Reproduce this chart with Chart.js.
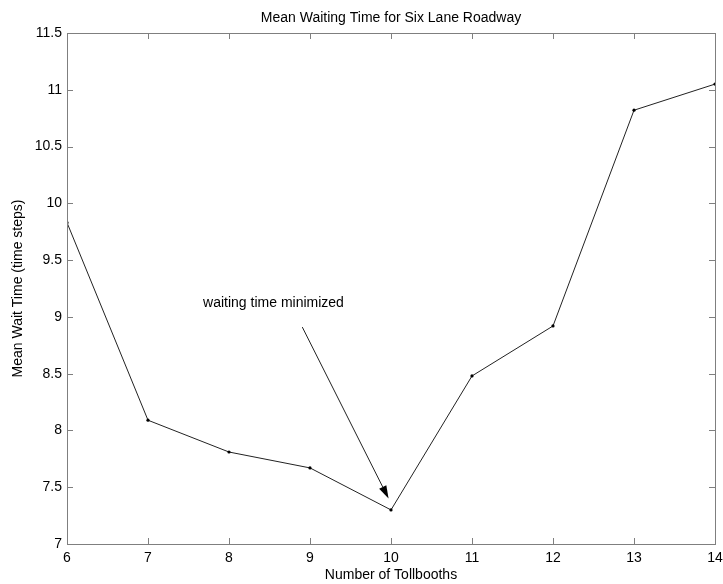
<!DOCTYPE html>
<html>
<head>
<meta charset="utf-8">
<script src="https://cdn.jsdelivr.net/npm/chart.js@4.4.0/dist/chart.umd.min.js"></script>
<style>
  html, body { margin: 0; padding: 0; background: #ffffff; }
  #wrap { width: 723px; height: 584px; position: relative; }
</style>
</head>
<body>
<div id="wrap"><canvas id="chart"></canvas></div>
<script>
// data
const tollbooths = [6, 7, 8, 9, 10, 11, 12, 13, 14];
const waitTimes = [9.83, 8.09, 7.81, 7.67, 7.3, 8.48, 8.92, 10.82, 11.05];
const yTicks = [7, 7.5, 8, 8.5, 9, 9.5, 10, 10.5, 11, 11.5];

const TITLE = "Mean Waiting Time for Six Lane Roadway";
const NOTE = "waiting time minimized";
const NOTE_AT = [7.68, 9.13];
const ARROW_FROM = [8.905, 8.91];
const ARROW_TO = [9.97, 7.4];

const FONT = "'Liberation Sans', Arial, sans-serif";
const FRAME = "#7f7f7f";

// box, inward ticks, title and the arrow note, the matlab look
const matlabLook = {
  id: "matlabLook",
  afterDraw(chart) {
    const ctx = chart.ctx;
    const a = chart.chartArea;
    const xs = chart.scales.x;
    const ys = chart.scales.y;
    ctx.save();

    ctx.strokeStyle = FRAME;
    ctx.lineWidth = 1;
    ctx.strokeRect(a.left + 0.5, a.top + 0.5, a.right - a.left, a.bottom - a.top);

    ctx.beginPath();
    tollbooths.forEach((v) => {
      const px = Math.round(xs.getPixelForValue(v)) + 0.5;
      ctx.moveTo(px, a.bottom);
      ctx.lineTo(px, a.bottom - 6);
      ctx.moveTo(px, a.top);
      ctx.lineTo(px, a.top + 6);
    });
    yTicks.forEach((v) => {
      const py = Math.round(ys.getPixelForValue(v)) + 0.5;
      ctx.moveTo(a.left, py);
      ctx.lineTo(a.left + 6, py);
      ctx.moveTo(a.right, py);
      ctx.lineTo(a.right - 6, py);
    });
    ctx.stroke();

    // title
    ctx.fillStyle = "#000000";
    ctx.font = `14px ${FONT}`;
    ctx.textAlign = "center";
    ctx.textBaseline = "alphabetic";
    ctx.fillText(TITLE, (a.left + a.right) / 2, 22);

    // note + arrow
    ctx.textAlign = "left";
    ctx.fillText(NOTE, xs.getPixelForValue(NOTE_AT[0]), ys.getPixelForValue(NOTE_AT[1]) + 5);

    const x1 = xs.getPixelForValue(ARROW_FROM[0]);
    const y1 = ys.getPixelForValue(ARROW_FROM[1]);
    const x2 = xs.getPixelForValue(ARROW_TO[0]);
    const y2 = ys.getPixelForValue(ARROW_TO[1]);
    const ang = Math.atan2(y2 - y1, x2 - x1);
    const headLen = 13;
    const headW = 4;
    ctx.strokeStyle = "#222222";
    ctx.beginPath();
    ctx.moveTo(x1, y1);
    ctx.lineTo(x2 - headLen * Math.cos(ang), y2 - headLen * Math.sin(ang));
    ctx.stroke();
    ctx.fillStyle = "#000000";
    ctx.beginPath();
    ctx.moveTo(x2, y2);
    ctx.lineTo(x2 - headLen * Math.cos(ang) + headW * Math.sin(ang), y2 - headLen * Math.sin(ang) - headW * Math.cos(ang));
    ctx.lineTo(x2 - headLen * Math.cos(ang) - headW * Math.sin(ang), y2 - headLen * Math.sin(ang) + headW * Math.cos(ang));
    ctx.closePath();
    ctx.fill();

    ctx.restore();
  },
};

Chart.defaults.font.family = FONT;
Chart.defaults.font.size = 14;
Chart.defaults.color = "#000000";

new Chart(document.getElementById("chart"), {
  type: "line",
  data: {
    labels: tollbooths,
    datasets: [
      {
        data: tollbooths.map((t, i) => ({ x: t, y: waitTimes[i] })),
        borderColor: "#222222",
        borderWidth: 1,
        pointRadius: 1.6,
        pointBackgroundColor: "#000000",
        pointBorderWidth: 0,
        tension: 0,
      },
    ],
  },
  options: {
    responsive: true,
    maintainAspectRatio: false,
    animation: false,
    layout: { padding: { top: 33, right: 8, left: 0, bottom: 0 } },
    plugins: {
      legend: { display: false },
      tooltip: { enabled: false },
    },
    scales: {
      x: {
        type: "linear",
        min: 6,
        max: 14,
        grid: { display: false, drawTicks: false },
        border: { display: false },
        ticks: { stepSize: 1, padding: 6, maxRotation: 0 },
        title: { display: true, text: "Number of Tollbooths", padding: { top: 0, bottom: 0 } },
        afterFit(scale) {
          scale.height = 40;
          scale.paddingRight = 0;
          scale.paddingLeft = 0;
        },
      },
      y: {
        min: 7,
        max: 11.5,
        grid: { display: false, drawTicks: false },
        border: { display: false },
        ticks: {
          stepSize: 0.5,
          padding: 5,
          callback: (v) => String(v),
        },
        title: { display: true, text: "Mean Wait Time (time steps)", padding: { top: 10, bottom: 0 } },
        afterFit(scale) {
          scale.width = 67;
        },
      },
    },
  },
  plugins: [matlabLook],
});
</script>
</body>
</html>
